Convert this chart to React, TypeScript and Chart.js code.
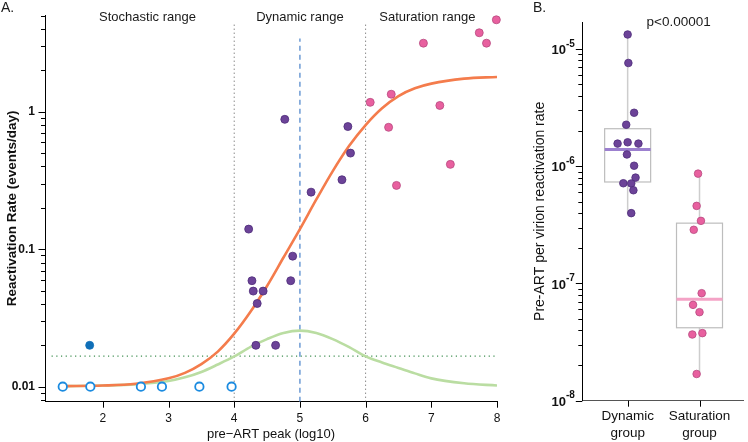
import React, { useEffect, useRef } from 'react';
import { Chart, registerables } from 'chart.js';
Chart.register(...registerables);

const FONT = "'Liberation Sans', Arial, Helvetica, sans-serif";

// ---------------- Panel A data ----------------
const peakTicks = [2, 3, 4, 5, 6, 7, 8];
const rateTicks = [0.01, 0.1, 1];
const PEAK_MIN = 1.12;
const PEAK_MAX = 8;
const RATE_MIN = 0.00778;
const RATE_MAX = 5.05;

const rangeLabels = ['Stochastic range', 'Dynamic range', 'Saturation range'];
const rangeLabelX = [2.68, 5.0, 6.94];
const rangeBounds = [4, 6];
const rangeBoundTop = 4.5;
const peakMidpoint = 5;
const midpointTop = 3.4;
const thresholdRate = 0.0167;
const thresholdFrom = 1.22;

const curveX = [1.4, 2, 2.5, 3, 3.25, 3.5, 3.75, 4, 4.25, 4.5, 4.75, 5, 5.25, 5.5, 5.75, 6, 6.25, 6.5, 6.75, 7, 7.5, 8];
const modelRate = [0.0101, 0.0102, 0.0105, 0.0115, 0.0126, 0.0146, 0.018, 0.0243, 0.0352, 0.054, 0.087, 0.14, 0.23, 0.37, 0.565, 0.8, 1.06, 1.3, 1.48, 1.6, 1.74, 1.79];
const bumpRate = [0.0101, 0.0102, 0.0104, 0.011, 0.0117, 0.0128, 0.0145, 0.0166, 0.0195, 0.0222, 0.0246, 0.0256, 0.0246, 0.0222, 0.0194, 0.0166, 0.015, 0.0137, 0.0125, 0.0115, 0.0106, 0.0102];

const dynamicPeak = [4.77, 5.73, 5.77, 5.64, 5.17, 4.22, 4.89, 4.27, 4.86, 4.29, 4.44, 4.35, 4.33, 4.63];
const dynamicRate = [0.88, 0.78, 0.5, 0.32, 0.26, 0.14, 0.089, 0.059, 0.059, 0.0496, 0.0496, 0.0403, 0.02, 0.02];
const saturationPeak = [7.99, 7.73, 7.84, 6.88, 6.39, 6.07, 7.13, 6.35, 7.29, 6.47];
const saturationRate = [4.66, 3.75, 3.15, 3.15, 1.34, 1.17, 1.11, 0.77, 0.414, 0.291];
const stochasticPeak = [1.8];
const stochasticRate = [0.02];
const floorPeak = [1.39, 1.81, 2.58, 2.9, 3.47, 3.96];
const floorRate = [0.01, 0.01, 0.01, 0.01, 0.01, 0.01];

// ---------------- Panel B data ----------------
const groupNames = ['Dynamic group', 'Saturation group'];
const groupPos = [1, 2];
const PERV_MIN = 1e-8;
const PERV_MAX = 1.7e-5;
const pervTicks = [1e-8, 1e-7, 1e-6, 1e-5];
const dynamicPerVirion = [1.33e-5, 7.6e-6, 2.86e-6, 2.26e-6, 1.56e-6, 1.6e-6, 1.56e-6, 1.26e-6, 1.01e-6, 8.0e-7, 7.16e-7, 7.13e-7, 6.24e-7, 3.98e-7];
const dynamicJitter = [0, 0.01, 0.09, -0.02, -0.14, 0, 0.15, -0.01, 0.09, 0.11, -0.06, 0.05, 0.08, 0.05];
const saturationPerVirion = [8.65e-7, 4.59e-7, 3.42e-7, 2.87e-7, 8.26e-8, 6.57e-8, 5.69e-8, 3.77e-8, 3.67e-8, 1.69e-8];
const saturationJitter = [-0.02, -0.04, 0.02, -0.08, 0.03, -0.09, 0, 0.04, -0.1, -0.04];
const boxLow = [3.98e-7, 1.69e-8];
const boxQ1 = [7.34e-7, 4.19e-8];
const boxMedian = [1.39e-6, 7.34e-8];
const boxQ3 = [2.09e-6, 3.27e-7];
const boxHigh = [1.33e-5, 8.65e-7];
const pValueText = 'p<0.00001';
const pValueX = 1.71;

// ---------------- styles ----------------
const ORANGE = '#F47C4C';
const GREEN = '#BADDA2';
const BLUE_DASH = '#6C9AD4';
const PURPLE = '#6C4398';
const PURPLE_EDGE = '#4E2C7A';
const PINK = '#E8609F';
const PINK_EDGE = '#B84A80';
const BLUE = '#0F6FB8';
const OPEN_BLUE = '#1B8BE0';
const MEDIAN_COLORS = ['#9C80CF', '#F4A3C6'];

function logTickMarks(min: number, max: number) {
  const out: { v: number; major: boolean }[] = [];
  for (let e = Math.floor(Math.log10(min)); e <= Math.ceil(Math.log10(max)); e++) {
    for (let m = 1; m <= 9; m++) {
      const v = m * Math.pow(10, e);
      if (v >= min * 0.9999 && v <= max * 1.0001) out.push({ v, major: m === 1 });
    }
  }
  return out;
}

function drawTick(ctx: CanvasRenderingContext2D, x1: number, y1: number, x2: number, y2: number) {
  ctx.beginPath();
  ctx.moveTo(x1, y1);
  ctx.lineTo(x2, y2);
  ctx.stroke();
}

const pts = (xs: number[], ys: number[]) => xs.map((x, i) => ({ x, y: ys[i] }));

export default function App() {
  const refA = useRef<HTMLCanvasElement>(null);
  const refB = useRef<HTMLCanvasElement>(null);

  useEffect(() => {
    const panelAPlugin = {
      id: 'panelA',
      afterDraw(chart: any) {
        const { ctx, chartArea, scales } = chart;
        const x = scales.x, y = scales.y;
        ctx.save();
        ctx.setLineDash([]);
        ctx.lineCap = 'butt';
        ctx.strokeStyle = '#000';
        ctx.lineWidth = 1;
        for (const t of logTickMarks(RATE_MIN, RATE_MAX)) {
          const py = Math.round(y.getPixelForValue(t.v)) + 0.5;
          const len = t.major ? 6.5 : 4;
          drawTick(ctx, chartArea.left - len, py, chartArea.left, py);
        }
        for (const v of peakTicks) {
          const px = Math.round(x.getPixelForValue(v)) + 0.5;
          drawTick(ctx, px, chartArea.bottom, px, chartArea.bottom + 6);
        }
        ctx.fillStyle = '#1a1a1a';
        ctx.font = `13px ${FONT}`;
        ctx.textAlign = 'center';
        ctx.textBaseline = 'alphabetic';
        rangeLabels.forEach((s, i) => ctx.fillText(s, x.getPixelForValue(rangeLabelX[i]), 20.5));
        ctx.font = `14px ${FONT}`;
        ctx.textAlign = 'left';
        ctx.fillText('A.', 1, 12);
        ctx.restore();
      },
    };

    const panelBPlugin = {
      id: 'panelB',
      beforeDatasetsDraw(chart: any) {
        const { ctx, scales } = chart;
        const x = scales.x, y = scales.y;
        const hw = 0.32;
        ctx.save();
        ctx.setLineDash([]);
        groupPos.forEach((g, i) => {
          const xl = x.getPixelForValue(g - hw);
          const xr = x.getPixelForValue(g + hw);
          const xc = x.getPixelForValue(g);
          const yLo = y.getPixelForValue(boxLow[i]);
          const yQ1 = y.getPixelForValue(boxQ1[i]);
          const yMed = y.getPixelForValue(boxMedian[i]);
          const yQ3 = y.getPixelForValue(boxQ3[i]);
          const yHi = y.getPixelForValue(boxHigh[i]);
          ctx.strokeStyle = '#CDCDCD';
          ctx.lineWidth = 1.5;
          ctx.beginPath();
          ctx.moveTo(xc, yHi);
          ctx.lineTo(xc, yQ3);
          ctx.moveTo(xc, yQ1);
          ctx.lineTo(xc, yLo);
          ctx.stroke();
          ctx.strokeStyle = '#BDBDBD';
          ctx.lineWidth = 1.2;
          ctx.strokeRect(xl, yQ3, xr - xl, yQ1 - yQ3);
          ctx.strokeStyle = MEDIAN_COLORS[i];
          ctx.lineWidth = 3;
          ctx.beginPath();
          ctx.moveTo(xl, yMed);
          ctx.lineTo(xr, yMed);
          ctx.stroke();
        });
        ctx.restore();
      },
      afterDraw(chart: any) {
        const { ctx, chartArea, scales } = chart;
        const x = scales.x, y = scales.y;
        ctx.save();
        ctx.setLineDash([]);
        ctx.lineCap = 'butt';
        ctx.strokeStyle = '#000';
        ctx.lineWidth = 1;
        for (const t of logTickMarks(PERV_MIN, PERV_MAX)) {
          const py = Math.round(y.getPixelForValue(t.v)) + 0.5;
          const len = t.major ? 6.5 : 4;
          drawTick(ctx, chartArea.left - len, py, chartArea.left, py);
        }
        for (const g of groupPos) {
          const px = Math.round(x.getPixelForValue(g)) + 0.5;
          drawTick(ctx, px, chartArea.bottom, px, chartArea.bottom + 6);
        }
        // power-of-ten tick labels: "10" with superscript exponent
        ctx.fillStyle = '#111';
        ctx.textAlign = 'right';
        ctx.textBaseline = 'middle';
        for (const v of pervTicks) {
          const py = y.getPixelForValue(v);
          const exp = String(Math.round(Math.log10(v)));
          const right = chartArea.left - 7.5;
          ctx.font = `bold 10px ${FONT}`;
          const ew = ctx.measureText(exp).width;
          ctx.fillText(exp, right, py - 5);
          ctx.font = `bold 13px ${FONT}`;
          ctx.fillText('10', right - ew, py + 1.5);
        }
        ctx.fillStyle = '#1a1a1a';
        ctx.font = `13.5px ${FONT}`;
        ctx.textAlign = 'center';
        ctx.textBaseline = 'alphabetic';
        ctx.fillText(pValueText, x.getPixelForValue(pValueX), 26);
        ctx.font = `14px ${FONT}`;
        ctx.textAlign = 'left';
        ctx.fillText('B.', 3, 12);
        ctx.restore();
      },
    };

    const pointBase = { type: 'scatter', clip: false, order: 0, pointBorderWidth: 0.8, pointRadius: 4, pointHoverRadius: 4 };
    const lineBase = { type: 'line', pointRadius: 0, fill: false, cubicInterpolationMode: 'monotone' };

    const chartA = new Chart(refA.current as HTMLCanvasElement, {
      type: 'scatter',
      data: {
        datasets: [
          { ...pointBase, data: pts(dynamicPeak, dynamicRate), backgroundColor: PURPLE, borderColor: PURPLE_EDGE },
          { ...pointBase, data: pts(saturationPeak, saturationRate), backgroundColor: PINK, borderColor: PINK_EDGE },
          { ...pointBase, data: pts(stochasticPeak, stochasticRate), backgroundColor: BLUE, borderColor: BLUE },
          { ...pointBase, data: pts(floorPeak, floorRate), backgroundColor: '#fff', borderColor: OPEN_BLUE, pointBorderWidth: 1.8, pointRadius: 4.2 },
          { ...lineBase, order: 1, data: pts(curveX, modelRate), borderColor: ORANGE, borderWidth: 2.6 },
          { ...lineBase, order: 2, data: pts(curveX, bumpRate), borderColor: GREEN, borderWidth: 2.6 },
          { type: 'line', order: 3, pointRadius: 0, data: [{ x: peakMidpoint, y: RATE_MIN }, { x: peakMidpoint, y: midpointTop }], borderColor: BLUE_DASH, borderWidth: 1.5, borderDash: [5, 4] },
          ...rangeBounds.map((b) => ({ type: 'line', order: 3, pointRadius: 0, data: [{ x: b, y: RATE_MIN }, { x: b, y: rangeBoundTop }], borderColor: '#555', borderWidth: 1, borderDash: [1, 3] })),
          { type: 'line', order: 3, pointRadius: 0, data: [{ x: thresholdFrom, y: thresholdRate }, { x: PEAK_MAX, y: thresholdRate }], borderColor: '#3E8E50', borderWidth: 1.2, borderDash: [1.2, 3.5] },
        ] as any,
      },
      options: {
        responsive: false,
        animation: false,
        events: [],
        layout: { padding: { top: 15, right: 33, left: 0, bottom: 0 } },
        plugins: { legend: { display: false }, tooltip: { enabled: false } },
        scales: {
          x: {
            type: 'linear',
            min: PEAK_MIN,
            max: PEAK_MAX,
            afterBuildTicks: (s: any) => { s.ticks = peakTicks.map((v) => ({ value: v })); },
            afterFit: (s: any) => { s.height = 40.3; },
            grid: { display: true, drawOnChartArea: false, drawTicks: true, tickLength: 6, tickColor: 'rgba(0,0,0,0)' },
            border: { display: true, color: '#000', width: 1 },
            ticks: { autoSkip: false, maxRotation: 0, padding: 4, color: '#111', font: { family: FONT, size: 12 }, callback: (v: any) => String(v) },
            title: { display: true, text: 'pre\u2212ART peak (log10)', color: '#111', font: { family: FONT, size: 13 }, padding: { top: 0, bottom: 0 } },
          },
          y: {
            type: 'logarithmic',
            min: RATE_MIN,
            max: RATE_MAX,
            afterBuildTicks: (s: any) => { s.ticks = rateTicks.map((v) => ({ value: v })); },
            afterFit: (s: any) => { s.width = 45; },
            grid: { display: true, drawOnChartArea: false, drawTicks: true, tickLength: 6, tickColor: 'rgba(0,0,0,0)' },
            border: { display: true, color: '#000', width: 1 },
            ticks: { autoSkip: false, padding: 4, color: '#111', font: { family: FONT, size: 12, weight: 'bold' }, callback: (v: any) => String(v) },
            title: { display: true, text: 'Reactivation Rate (events/day)', color: '#111', font: { family: FONT, size: 13.5, weight: 'bold' }, padding: { top: 4, bottom: 0 } },
          },
        },
      } as any,
      plugins: [panelAPlugin],
    });

    const chartB = new Chart(refB.current as HTMLCanvasElement, {
      type: 'scatter',
      data: {
        datasets: [
          { ...pointBase, pointRadius: 3.8, data: dynamicPerVirion.map((v, i) => ({ x: groupPos[0] + dynamicJitter[i], y: v })), backgroundColor: PURPLE, borderColor: PURPLE_EDGE },
          { ...pointBase, pointRadius: 3.8, data: saturationPerVirion.map((v, i) => ({ x: groupPos[1] + saturationJitter[i], y: v })), backgroundColor: PINK, borderColor: PINK_EDGE },
        ] as any,
      },
      options: {
        responsive: false,
        animation: false,
        events: [],
        layout: { padding: { top: 22, right: 0, left: 0, bottom: 0 } },
        plugins: { legend: { display: false }, tooltip: { enabled: false } },
        scales: {
          x: {
            type: 'linear',
            min: 0.369,
            max: 2.608,
            afterBuildTicks: (s: any) => { s.ticks = groupPos.map((v) => ({ value: v })); },
            afterFit: (s: any) => { s.height = 41.3; },
            grid: { display: true, drawOnChartArea: false, drawTicks: true, tickLength: 6, tickColor: 'rgba(0,0,0,0)' },
            border: { display: true, color: '#555', width: 1 },
            ticks: {
              autoSkip: false, maxRotation: 0, padding: 1, color: '#111',
              font: { family: FONT, size: 13.5, lineHeight: 1.25 },
              callback: (v: any) => { const i = groupPos.indexOf(Number(v)); return i >= 0 ? groupNames[i].split(' ') : ''; },
            },
          },
          y: {
            type: 'logarithmic',
            min: PERV_MIN,
            max: PERV_MAX,
            afterBuildTicks: (s: any) => { s.ticks = pervTicks.map((v) => ({ value: v })); },
            afterFit: (s: any) => { s.width = 52.3; },
            grid: { display: true, drawOnChartArea: false, drawTicks: true, tickLength: 5, tickColor: 'rgba(0,0,0,0)' },
            border: { display: true, color: '#000', width: 1 },
            ticks: { autoSkip: false, padding: 2, color: 'rgba(0,0,0,0)', font: { family: FONT, size: 13, weight: 'bold' }, callback: () => '' },
            title: { display: true, text: 'Pre-ART per virion reactivation rate', color: '#111', font: { family: FONT, size: 14 }, padding: { top: 1.6, bottom: 0 } },
          },
        },
      } as any,
      plugins: [panelBPlugin],
    });

    return () => {
      chartA.destroy();
      chartB.destroy();
    };
  }, []);

  return (
    <div style={{ position: 'fixed', left: 0, top: 0, width: 748, height: 442, background: '#fff' }}>
      <canvas ref={refA} width={530} height={442} style={{ position: 'absolute', left: 0, top: 0, width: 530, height: 442 }} />
      <canvas ref={refB} width={218} height={442} style={{ position: 'absolute', left: 530, top: 0, width: 218, height: 442 }} />
    </div>
  );
}
